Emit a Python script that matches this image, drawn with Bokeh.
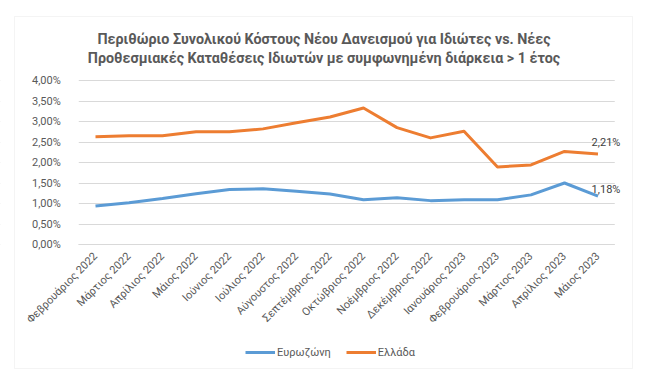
import math
from bokeh.plotting import figure
from bokeh.models import (Range1d, FixedTicker, Legend, LegendItem, Label,
                          BoxAnnotation, LinearAxis)
from bokeh.embed import file_html
from bokeh.resources import INLINE

months = ["Φεβρουάριος 2022", "Μάρτιος 2022", "Απρίλιος 2022", "Μάιος 2022",
          "Ιούνιος 2022", "Ιούλιος 2022", "Αύγουστος 2022", "Σεπτέμβριος 2022",
          "Οκτώβριος 2022", "Νοέμβριος 2022", "Δεκέμβριος 2022", "Ιανουάριος 2023",
          "Φεβρουάριος 2023", "Μάρτιος 2023", "Απρίλιος 2023", "Μάιος 2023"]
eurozone = [0.94, 1.02, 1.12, 1.24, 1.34, 1.36, 1.30, 1.23, 1.09, 1.14, 1.07, 1.09,
            1.09, 1.21, 1.50, 1.18]
greece = [2.63, 2.65, 2.65, 2.75, 2.75, 2.82, 2.97, 3.11, 3.33, 2.85, 2.60, 2.76,
          1.89, 1.94, 2.27, 2.21]
y_ticks = [0.0, 0.5, 1.0, 1.5, 2.0, 2.5, 3.0, 3.5, 4.0]
y_tick_labels = ["0,00%", "0,50%", "1,00%", "1,50%", "2,00%", "2,50%", "3,00%",
                 "3,50%", "4,00%"]
series_names = ["Ευρωζώνη", "Ελλάδα"]
title_lines = ["Περιθώριο Συνολικού Κόστους Νέου Δανεισμού για Ιδιώτες vs. Νέες",
               "Προθεσμιακές Καταθέσεις Ιδιωτών με συμφωνημένη διάρκεια > 1 έτος"]

FONT = "Roboto"
BLUE = "#5B9BD5"
ORANGE = "#ED7D31"
GRID = "#d9d9d9"
TXT = "#595959"

# ---- layout (canvas pixels) ----
W, H = 640, 378
PX_CAT = 33.5          # width of one category band
PX_PCT = 41.0          # pixels per 1 %
X0_PX = 95.0           # canvas x of first category centre
Y0_PX = 244.0          # canvas y (from top) of 0 %

def cx(px):            # canvas x -> data x
    return (px - X0_PX) / PX_CAT

def cy(py):            # canvas y (from top) -> data y
    return (Y0_PX - py) / PX_PCT

n = len(months)
xs = list(range(n))
x_lo, x_hi = -0.5, n - 0.5
y_lo, y_hi = y_ticks[0], y_ticks[-1]

p = figure(width=W, height=H, title=None,
           x_range=Range1d(cx(0), cx(W)), y_range=Range1d(cy(H), cy(0)),
           x_axis_location=None, y_axis_location=None,
           output_backend="svg", toolbar_location=None, min_border=0)
p.outline_line_color = None
p.xgrid.grid_line_color = None
p.ygrid.grid_line_color = GRID
p.ygrid.ticker = FixedTicker(ticks=y_ticks)

# masks hiding gridline overhang outside the category bands
p.add_layout(BoxAnnotation(right=x_lo, fill_color="white", fill_alpha=1,
                           line_color=None, level="underlay"))
p.add_layout(BoxAnnotation(left=x_hi, fill_color="white", fill_alpha=1,
                           line_color=None, level="underlay"))
# chart border
p.add_layout(BoxAnnotation(left=cx(14), right=cx(632), top=cy(16), bottom=cy(368),
                           fill_alpha=0, line_color=GRID, line_width=1,
                           level="underlay"))

yaxis = LinearAxis(fixed_location=x_lo, bounds=(y_lo, y_hi),
                   ticker=FixedTicker(ticks=y_ticks))
yaxis.major_label_overrides = {t: l for t, l in zip(y_ticks, y_tick_labels)}
yaxis.axis_line_color = None
yaxis.major_tick_line_color = None
yaxis.minor_tick_line_color = None
yaxis.major_label_text_font = FONT
yaxis.major_label_text_font_size = "11px"
yaxis.major_label_text_color = TXT
yaxis.major_label_standoff = 12
p.add_layout(yaxis, "left")

xaxis = LinearAxis(fixed_location=y_lo, bounds=(x_lo, x_hi),
                   ticker=FixedTicker(ticks=xs))
xaxis.major_label_overrides = {i: m for i, m in zip(xs, months)}
xaxis.axis_line_color = GRID
xaxis.major_tick_line_color = None
xaxis.minor_tick_line_color = None
xaxis.major_label_orientation = math.pi / 4
xaxis.major_label_text_font = FONT
xaxis.major_label_text_font_size = "11px"
xaxis.major_label_text_color = TXT
xaxis.major_label_standoff = 4
p.add_layout(xaxis, "below")

r1 = p.line(xs, eurozone, line_color=BLUE, line_width=3, line_join="round")
r2 = p.line(xs, greece, line_color=ORANGE, line_width=3, line_join="round")

def fmt(v):
    return f"{v:.2f}%".replace(".", ",")

for vals, dy in ((greece, 11), (eurozone, 7)):
    p.add_layout(Label(x=xs[-1], y=vals[-1], text=fmt(vals[-1]), x_offset=8,
                       y_offset=dy, text_align="center", text_baseline="middle",
                       text_font=FONT, text_font_size="11px", text_color="#404040"))

# title, two centred lines
for line, py in zip(title_lines, (38, 57)):
    p.add_layout(Label(x=323.5, y=H - py, x_units="screen", y_units="screen",
                       text=line, text_align="center", text_baseline="middle",
                       text_font=FONT, text_font_size="14.3px", text_font_style="bold",
                       text_color=TXT))

legend = Legend(items=[LegendItem(label=series_names[0], renderers=[r1]),
                       LegendItem(label=series_names[1], renderers=[r2])],
                location=(245, H - 360), orientation="horizontal", padding=0,
                margin=0, spacing=15, label_standoff=2, glyph_width=30,
                glyph_height=16, label_text_font=FONT, label_text_font_size="11px",
                label_text_color=TXT, border_line_color=None,
                background_fill_alpha=0)
p.add_layout(legend, "center")

open("out.html", "w").write(file_html(p, INLINE))
